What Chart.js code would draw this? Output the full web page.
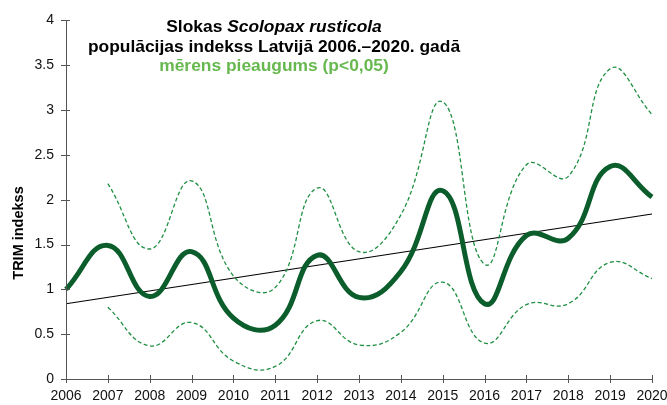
<!DOCTYPE html>
<html>
<head>
<meta charset="utf-8">
<script src="https://cdn.jsdelivr.net/npm/chart.js@4"></script>
<style>
  html, body { margin: 0; padding: 0; background: #fff; }
  #wrap { width: 667px; height: 405px; position: relative; }
</style>
</head>
<body>
<div id="wrap"><canvas id="myChart"></canvas></div>
<script>
const years = ['2006', '2007', '2008', '2009', '2010', '2011', '2012', '2013', '2014', '2015', '2016', '2017', '2018', '2019', '2020']
const indekss = [1.0, 1.49, 0.92, 1.42, 0.68, 0.6, 1.38, 0.91, 1.2, 2.1, 0.84, 1.6, 1.57, 2.37, 2.03]
const augsa = [null, 2.18, 1.45, 2.21, 1.15, 1.02, 2.13, 1.42, 1.83, 3.09, 1.28, 2.39, 2.26, 3.46, 2.95]
const apaksa = [null, 0.8, 0.37, 0.63, 0.2, 0.14, 0.65, 0.38, 0.52, 1.08, 0.4, 0.83, 0.84, 1.3, 1.12]
const trends = [0.84, null, null, null, null, null, null, null, null, null, null, null, null, null, 1.84]
const yTicks = [0, 0.5, 1, 1.5, 2, 2.5, 3, 3.5, 4]

const titleLines = [
    [{ text: 'Slokas ', style: 'bold' }, { text: 'Scolopax rusticola', style: 'italic bold' }],
    [{ text: 'populācijas indekss Latvijā 2006.–2020. gadā', style: 'bold' }],
    [{ text: 'mērens pieaugums (p<0,05)', style: 'bold', color: '#66b84f' }]
]

const font = '"Liberation Sans", Arial, sans-serif'

// virsraksts, ass nosaukums un krustotas iedaļas
const extras = {
    id: 'extras',
    afterDraw(chart) {
        const ctx = chart.ctx
        const xs = chart.scales.x
        const ys = chart.scales.y
        ctx.save()
        ctx.strokeStyle = '#555'
        ctx.lineWidth = 1
        ctx.beginPath()
        ctx.moveTo(xs.left, ys.bottom + 0.5)
        ctx.lineTo(xs.right, ys.bottom + 0.5)
        ctx.moveTo(xs.left + 0.5, ys.top)
        ctx.lineTo(xs.left + 0.5, ys.bottom)
        xs.ticks.forEach((t, i) => {
            const px = Math.round(xs.getPixelForTick(i)) + 0.5
            ctx.moveTo(px, ys.bottom - 4)
            ctx.lineTo(px, ys.bottom + 4)
        })
        ys.ticks.forEach((t, i) => {
            const py = Math.round(ys.getPixelForTick(i)) + 0.5
            ctx.moveTo(xs.left - 5, py)
            ctx.lineTo(xs.left + 4, py)
        })
        ctx.stroke()

        const center = 274
        const baselines = [32, 51.5, 71]
        ctx.textBaseline = 'alphabetic'
        ctx.textAlign = 'left'
        titleLines.forEach((line, li) => {
            let w = 0
            line.forEach(p => {
                ctx.font = p.style + ' 17.4px ' + font
                w += ctx.measureText(p.text).width
            })
            let x = center - w / 2
            line.forEach(p => {
                ctx.font = p.style + ' 17.4px ' + font
                ctx.fillStyle = p.color || '#000'
                ctx.fillText(p.text, x, baselines[li])
                x += ctx.measureText(p.text).width
            })
        })

        ctx.translate(19, 233)
        ctx.rotate(-Math.PI / 2)
        ctx.font = 'bold 14.5px ' + font
        ctx.fillStyle = '#000'
        ctx.textAlign = 'center'
        ctx.textBaseline = 'middle'
        ctx.fillText('TRIM indekss', 0, 0)
        ctx.restore()
    }
}

const config = {
    type: 'line',
    data: {
        labels: years,
        datasets: [{
            label: 'augšējā robeža',
            data: augsa,
            borderColor: '#1f8f42',
            borderWidth: 1.3,
            borderDash: [4, 2.5],
            tension: 0.45,
            pointRadius: 0
        }, {
            label: 'apakšējā robeža',
            data: apaksa,
            borderColor: '#1f8f42',
            borderWidth: 1.3,
            borderDash: [4, 2.5],
            tension: 0.45,
            pointRadius: 0
        }, {
            label: 'TRIM indekss',
            data: indekss,
            borderColor: '#0b5e2b',
            borderWidth: 5,
            tension: 0.45,
            pointRadius: 0
        }, {
            label: 'trends',
            data: trends,
            borderColor: '#000',
            borderWidth: 1.1,
            spanGaps: true,
            tension: 0,
            pointRadius: 0
        }]
    },
    options: {
        responsive: true,
        maintainAspectRatio: false,
        animation: false,
        layout: { padding: { top: 18, right: 0, left: 0, bottom: 0 } },
        plugins: {
            legend: { display: false },
            tooltip: { enabled: false }
        },
        scales: {
            x: {
                offset: false,
                grid: { display: false, drawTicks: false },
                border: { display: false },
                ticks: { color: '#111', font: { family: font, size: 14 }, padding: 9, maxRotation: 0, autoSkip: false },
                afterFit: (s) => {
                    s.height = 26
                    s.paddingRight = 15
                }
            },
            y: {
                min: 0,
                max: 4,
                afterBuildTicks: (s) => { s.ticks = yTicks.map(v => ({ value: v })) },
                grid: { display: false, drawTicks: false },
                border: { display: false },
                ticks: {
                    color: '#111',
                    font: { family: font, size: 14 },
                    padding: 12,
                    callback: (v) => String(v)
                },
                afterFit: (s) => { s.width = 66 }
            }
        }
    },
    plugins: [extras]
}

const chart = new Chart(document.getElementById('myChart'), config)
</script>
</body>
</html>
